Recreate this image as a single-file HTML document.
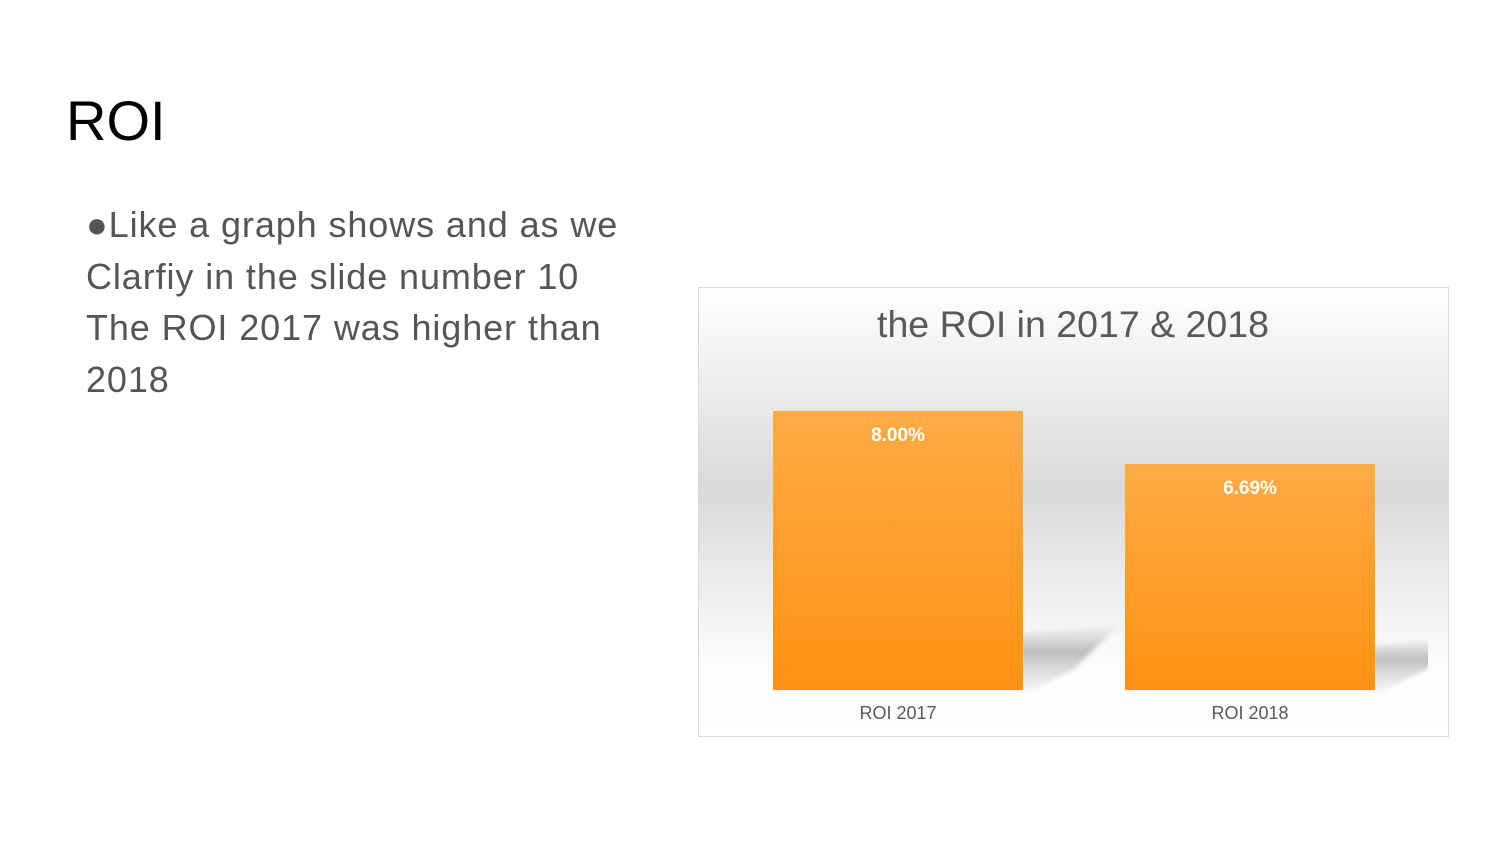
<!DOCTYPE html>
<html><head><meta charset="utf-8"><style>
body{margin:0;width:1500px;height:844px;background:#fff;font-family:"Liberation Sans",sans-serif;position:relative;overflow:hidden}
#title{position:absolute;left:66px;top:88px;font-size:56px;color:#000}
#body{position:absolute;left:86px;top:199px;font-size:36px;line-height:51.5px;color:#555;width:640px;white-space:nowrap;letter-spacing:0.9px}
</style></head><body>
<div id="title">ROI</div>
<div id="body">●Like a graph shows and as we<br>Clarfiy in the slide number 10<br>The ROI 2017 was higher than<br>2018</div>
<svg id="chart" width="1500" height="844" style="position:absolute;left:0;top:0">
<defs>
<linearGradient id="bg" x1="0" y1="0" x2="0" y2="1">
<stop offset="0" stop-color="#fff"/><stop offset="0.45" stop-color="#d9d9d9"/><stop offset="0.85" stop-color="#fdfdfd"/><stop offset="1" stop-color="#fff"/></linearGradient>
<linearGradient id="bar" x1="0" y1="0" x2="0" y2="1"><stop offset="0" stop-color="#ffab45"/><stop offset="1" stop-color="#ff9214"/></linearGradient>
<linearGradient id="sh" x1="0" y1="0" x2="0" y2="1"><stop offset="0" stop-color="#d8d8d8" stop-opacity="0.3"/><stop offset="0.4" stop-color="#bdbdbd"/><stop offset="1" stop-color="#e8e8e8" stop-opacity="0.5"/></linearGradient>
<filter id="blur"><feGaussianBlur stdDeviation="2.5"/></filter>
<clipPath id="clip"><rect x="699" y="288" width="729" height="448"/></clipPath>
</defs>
<rect x="698.5" y="287.5" width="750" height="449" fill="url(#bg)" stroke="#d9d9d9"/>
<text x="1073" y="337" text-anchor="middle" font-size="37.5" fill="#595959">the ROI in 2017 &amp; 2018</text>
<g id="marks"></g>
</svg>
<script>
const categories=["ROI 2017","ROI 2018"];
const values=[8.00,6.69];
const labels=["8.00%","6.69%"];
const yMin=1.1,yMax=8.0,base=690,top0=411;
function y(v){return base-(v-yMin)/(yMax-yMin)*(base-top0);}
function x(i){return 773+i*352;}
const bw=250,ns="http://www.w3.org/2000/svg",g=document.getElementById('marks');
values.forEach((v,i)=>{
 const x0=x(i),yt=y(v),h=base-yt;
 const sh=document.createElementNS(ns,'polygon');
 const sy=base-h*0.23;
 sh.setAttribute('points',`${x0+bw-2},${base} ${x0+bw-2},${sy+8} ${x0+bw+95},${sy} ${x0+bw+50},${base-20} ${x0+bw+10},${base}`);
 sh.setAttribute('fill','url(#sh)');sh.setAttribute('filter','url(#blur)');sh.setAttribute('clip-path','url(#clip)');
 
 
 g.appendChild(sh);
 const r=document.createElementNS(ns,'rect');
 r.setAttribute('x',x0);r.setAttribute('y',yt);r.setAttribute('width',bw);r.setAttribute('height',h);r.setAttribute('fill','url(#bar)');
 
 
 g.appendChild(r);
 const t=document.createElementNS(ns,'text');
 t.setAttribute('x',x0+bw/2);t.setAttribute('y',yt+30);t.setAttribute('text-anchor','middle');t.setAttribute('font-size','19');t.setAttribute('font-weight','bold');t.setAttribute('fill','#fff');
 t.textContent=labels[i];
 
 
 g.appendChild(t);
 const c=document.createElementNS(ns,'text');
 c.setAttribute('x',x0+bw/2);c.setAttribute('y',719);c.setAttribute('text-anchor','middle');c.setAttribute('font-size','18');c.setAttribute('fill','#595959');
 c.textContent=categories[i];
 
 
 g.appendChild(c);
});
</script>
</body></html>
